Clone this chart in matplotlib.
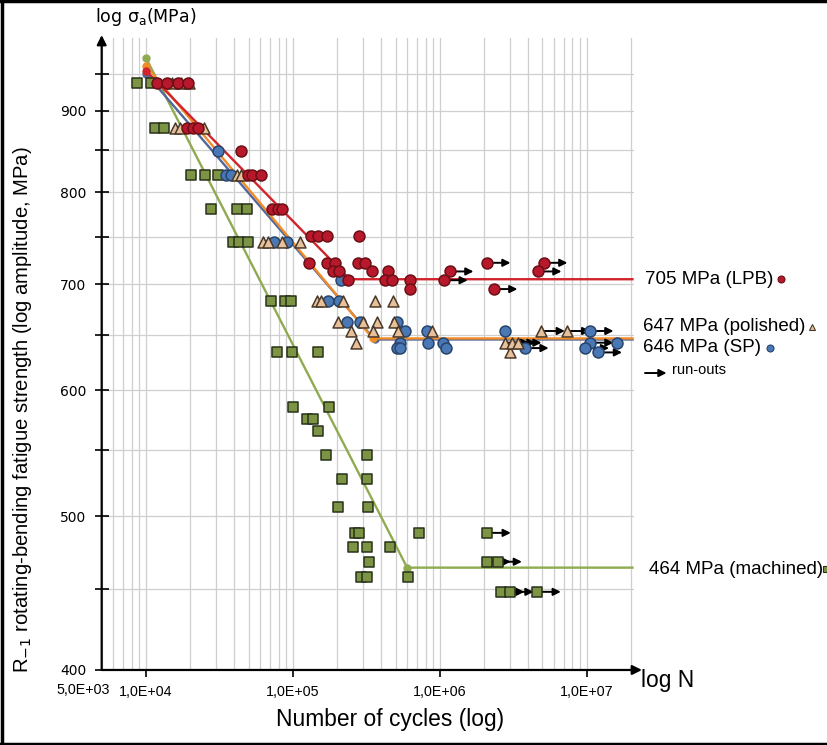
import matplotlib
matplotlib.use("Agg")
import matplotlib.pyplot as plt
import matplotlib.font_manager as fm
from matplotlib.ticker import LogLocator, NullFormatter

# Fonts: narrow sans for axis texts if available
names = {f.name for f in fm.fontManager.ttflist}
if "Liberation Sans Narrow" in names:
    narrow, k = "Liberation Sans Narrow", 1.0
else:
    narrow, k = "Liberation Sans", 0.82

# S-N data (cycles, stress amplitude MPa)
lpb_n = [1.19e4, 1.39e4, 1.65e4, 1.93e4, 1.90e4, 2.09e4, 2.26e4, 4.43e4,
         4.94e4, 5.25e4, 6.06e4, 7.2e4, 7.9e4, 8.5e4,
         1.33e5, 1.48e5, 1.70e5, 2.8e5,
         1.29e5, 1.70e5, 1.93e5, 2.77e5, 3.1e5,
         1.87e5, 2.06e5, 3.45e5, 4.43e5,
         2.38e5, 4.22e5, 4.71e5, 6.25e5, 6.25e5]
lpb_s = [937, 937, 937, 937, 878, 878, 878, 849,
         820, 820, 820, 781, 781, 781,
         751, 751, 751, 751,
         722, 722, 722, 722, 722,
         713, 713, 713, 713,
         704, 704, 704, 704, 695]
lpb_run_n = [2.09e6, 5.1e6, 1.17e6, 4.65e6, 1.07e6, 2.33e6]
lpb_run_s = [722, 722, 713, 713, 704, 695]

pol_n = [1.5e4, 1.73e4, 1.96e4, 1.57e4, 1.70e4, 2.48e4, 4.17e4, 4.43e4,
         6.3e4, 6.75e4, 8.4e4, 1.12e5,
         1.46e5, 1.55e5, 2.19e5, 3.61e5, 4.79e5,
         2.02e5, 2.99e5, 3.72e5, 4.86e5,
         2.48e5, 3.5e5, 5.18e5, 8.8e5, 2.68e5, 3.0e6]
pol_s = [937, 937, 937, 878, 878, 878, 820, 820,
         744, 744, 744, 744,
         683, 683, 683, 683, 683,
         663, 663, 663, 663,
         654, 654, 654, 654, 643, 634]
pol_run_n = [4.9e6, 7.3e6, 2.8e6, 3.1e6, 3.4e6]
pol_run_s = [654, 654, 643, 643, 643]

sp_n = [3.09e4, 3.5e4, 3.79e4, 7.5e4, 9.1e4, 2.12e5, 1.73e5, 2.05e5,
        2.35e5, 2.86e5, 5.1e5, 5.8e5, 8.2e5, 2.8e6,
        5.35e5, 8.3e5, 1.05e6, 5.1e5, 5.4e5, 1.1e6]
sp_s = [849, 820, 820, 744, 744, 704, 683, 683,
        663, 663, 663, 654, 654, 654,
        643, 643, 643, 638, 638, 638]
sp_run_n = [1.05e7, 1.05e7, 1.6e7, 3.8e6, 9.8e6, 1.2e7]
sp_run_s = [654, 643, 643, 638, 638, 634]

mach_n = [8.7e3, 1.08e4, 1.15e4, 1.33e4, 2.03e4, 2.52e4, 3.09e4,
          2.77e4, 4.17e4, 4.86e4, 3.9e4, 4.3e4, 4.95e4,
          7.1e4, 8.9e4, 9.7e4, 7.8e4, 9.8e4, 1.48e5,
          1.0e5, 1.75e5, 1.24e5, 1.37e5, 1.48e5, 1.67e5, 3.2e5,
          2.15e5, 3.2e5, 2.02e5, 3.26e5, 2.64e5, 2.8e5, 7.2e5,
          2.56e5, 3.2e5, 4.6e5, 3.3e5, 2.9e5, 3.2e5, 6.1e5]
mach_s = [937, 937, 878, 878, 820, 820, 820,
          781, 781, 781, 744, 744, 744,
          683, 683, 683, 634, 634, 634,
          586, 586, 576, 576, 566, 546, 546,
          528, 528, 507, 507, 488, 488, 488,
          478, 478, 478, 468, 458, 458, 458]
mach_run_n = [2.1e6, 2.1e6, 2.5e6, 2.6e6, 3.0e6, 4.6e6]
mach_run_s = [488, 468, 468, 448, 448, 448]

# Fitted S-N curves (start, knee, end)
lpb_fit_n, lpb_fit_s = [1e4, 2.44e5, 2.05e7], [954, 705, 705]
pol_fit_n, pol_fit_s = [1e4, 3.5e5, 2.05e7], [961, 647, 647]
sp_fit_n, sp_fit_s = [1e4, 3.6e5, 2.05e7], [950, 646, 646]
mach_fit_n, mach_fit_s = [1e4, 6.0e5, 2.05e7], [972, 464, 464]

y_major = [400, 500, 600, 700, 800, 900]
y_minor = [450, 550, 650, 750, 850, 950]
x_major = [1e4, 1e5, 1e6, 1e7]
x_labels = ["1,0E+04", "1,0E+05", "1,0E+06", "1,0E+07"]

series = [
    # fit n, fit s, pts n, pts s, run n, run s, marker, face, edge, line color
    (mach_fit_n, mach_fit_s, mach_n, mach_s, mach_run_n, mach_run_s, "s", "#7d9445", "#28311a", "#8fab52"),
    (sp_fit_n, sp_fit_s, sp_n, sp_s, sp_run_n, sp_run_s, "o", "#4a78b5", "#27446c", "#52689a"),
    (pol_fit_n, pol_fit_s, pol_n, pol_s, pol_run_n, pol_run_s, "^", "#e6c19b", "#4a3828", "#f28c28"),
    (lpb_fit_n, lpb_fit_s, lpb_n, lpb_s, lpb_run_n, lpb_run_s, "o", "#b8182c", "#6b0f14", "#d0232c"),
]

fig = plt.figure(figsize=(8.28, 7.45), dpi=100)
ax = fig.add_axes([0.1228, 0.1007, 0.6429, 0.848])
ax.set_xscale("log")
ax.set_yscale("log")
ax.set_xlim(5e3, 2.1e7)
ax.set_ylim(400, 1000)

# grid
ax.xaxis.set_minor_locator(LogLocator(base=10, subs=range(2, 10)))
ax.xaxis.set_minor_formatter(NullFormatter())
ax.set_yticks(y_major)
ax.set_yticklabels([str(v) for v in y_major], fontsize=10, family="DejaVu Sans")
ax.set_yticks(y_minor, minor=True)
ax.yaxis.set_minor_formatter(NullFormatter())
ax.set_xticks(x_major)
ax.set_xticklabels(x_labels, fontsize=12.5 * k, family=narrow)
ax.grid(True, which="both", color="#cfcfcf", lw=0.9, zorder=0)
ax.set_axisbelow(True)
ax.tick_params(axis="y", which="both", direction="inout", length=10, width=1.2, pad=6)
ax.tick_params(axis="x", which="major", direction="out", length=5, width=1.2, pad=6)
ax.tick_params(axis="x", which="minor", length=0)
for side in ["top", "right", "left", "bottom"]:
    ax.spines[side].set_visible(False)

# axes with arrows
ax.annotate("", xy=(1.015, 0), xytext=(0, 0), xycoords="axes fraction",
            arrowprops=dict(arrowstyle="-|>", color="k", lw=1.6, mutation_scale=14,
                            shrinkA=0, shrinkB=0), annotation_clip=False)
ax.annotate("", xy=(0, 1.005), xytext=(0, 0), xycoords="axes fraction",
            arrowprops=dict(arrowstyle="-|>", color="k", lw=1.6, mutation_scale=14,
                            shrinkA=0, shrinkB=0), annotation_clip=False)

for fn, fs, pn, ps, rn, rs, m, fc, ec, lc in series:
    ax.plot(fn, fs, color=lc, lw=1.7, marker="o", ms=5, markevery=[0, 1], zorder=3)
    for n, s in zip(rn, rs):
        ax.annotate("", xy=(n * 1.45, s), xytext=(n, s),
                    arrowprops=dict(arrowstyle="-|>", color="k", lw=1.4,
                                    mutation_scale=11, shrinkA=0, shrinkB=0), zorder=4)
    ax.scatter(pn + rn, ps + rs, marker=m, s=62, facecolor=fc, edgecolor=ec,
               linewidth=1.1, zorder=5)

# texts
fig.text(0.1147, 0.977, r"log $\mathregular{\sigma_a}$(MPa)", fontsize=12.5,
         family="DejaVu Sans", va="center")
fig.text(0.100, 0.0738, "5,0E+03", fontsize=12.5 * k, family=narrow, ha="center", va="center")
fig.text(0.774, 0.087, "log N", fontsize=20 * k, family=narrow, va="center")
fig.text(0.471, 0.034, "Number of cycles (log)", fontsize=20 * k, family=narrow,
         ha="center", va="center")
fig.text(0.027, 0.45, r"R$_{-1}$ rotating-bending fatigue strength (log amplitude, MPa)",
         fontsize=17.8 * k, family=narrow, rotation=90, ha="center", va="center")

fig.text(0.779, 0.6255, "705 MPa (LPB)", fontsize=13.5, family="Liberation Sans", va="center")
fig.text(0.7766, 0.5624, "647 MPa (polished)", fontsize=13.5, family="Liberation Sans", va="center")
fig.text(0.7766, 0.5329, "646 MPa (SP)", fontsize=13.5, family="Liberation Sans", va="center")
fig.text(0.7838, 0.2362, "464 MPa (machined)", fontsize=13.5, family="Liberation Sans", va="center")
fig.text(0.8116, 0.503, "run-outs", fontsize=10.5, family="Liberation Sans", va="center")
ax.annotate("", xy=(0.805, 0.4993), xytext=(0.779, 0.4993), xycoords="figure fraction",
            arrowprops=dict(arrowstyle="-|>", color="k", lw=1.4, mutation_scale=11,
                            shrinkA=0, shrinkB=0), annotation_clip=False)

key_marks = [("o", "#b8182c", "#6b0f14", 0.943, 0.6255),
             ("^", "#e6c19b", "#4a3828", 0.981, 0.561),
             ("o", "#4a78b5", "#27446c", 0.930, 0.533),
             ("s", "#7d9445", "#28311a", 0.9976, 0.236)]
for m, fc, ec, x, y in key_marks:
    fig.add_artist(plt.Line2D([x], [y], marker=m, ms=5, mfc=fc, mec=ec, mew=0.8,
                              transform=fig.transFigure))

# frame around figure
for xs, ys in [([0.002, 0.002], [0, 1]), ([0, 1], [0.998, 0.998]), ([0, 1], [0.002, 0.002])]:
    fig.add_artist(plt.Line2D(xs, ys, color="k", lw=2.5, transform=fig.transFigure))

fig.savefig("out.png", dpi=100)
